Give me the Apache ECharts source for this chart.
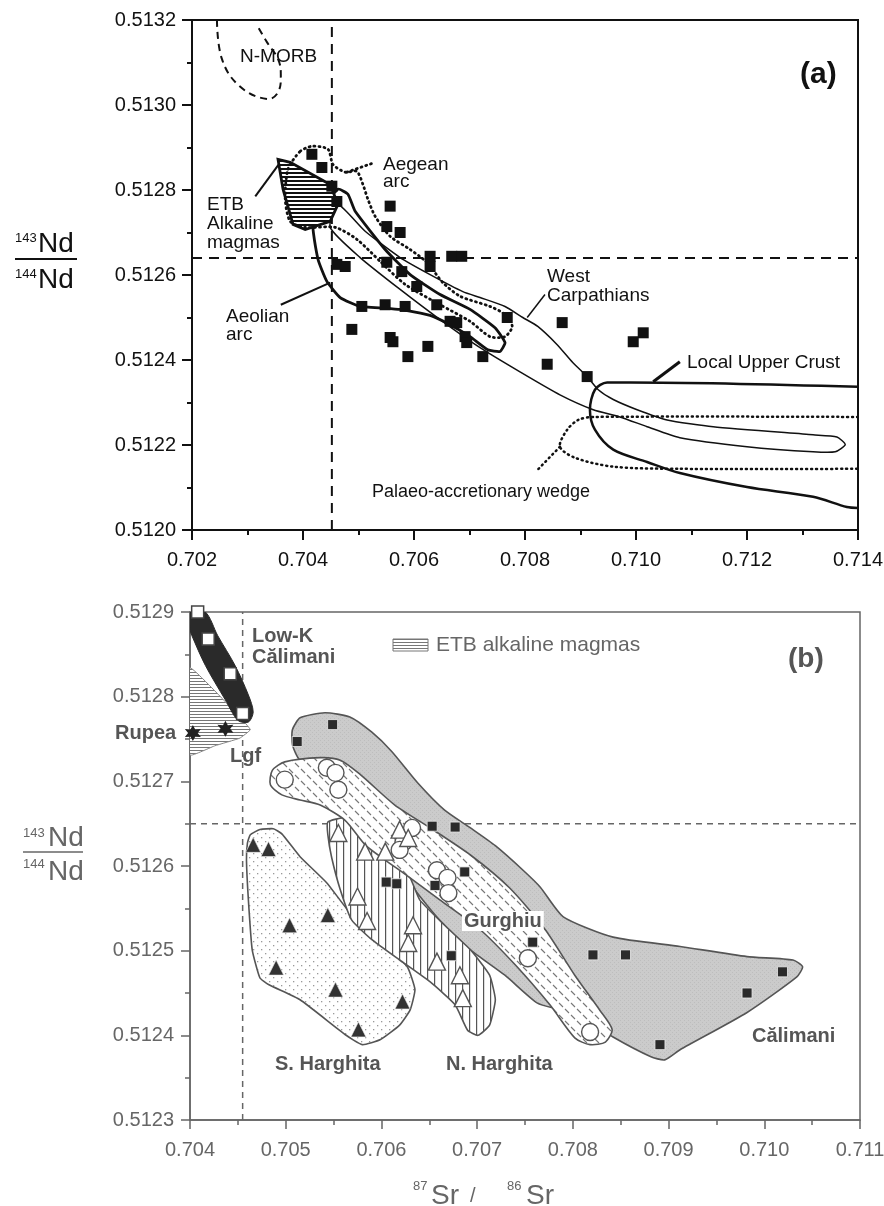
<!DOCTYPE html>
<html><head><meta charset="utf-8">
<script src="https://cdn.jsdelivr.net/npm/echarts@6/dist/echarts.min.js"></script>
<style>html,body{margin:0;padding:0;background:#fff}#c{width:884px;height:1206px}</style>
</head><body><div id="c"></div>
<script>
// ================= DATA =================
// Panel (a) axes
const xTicksA = [0.702, 0.704, 0.706, 0.708, 0.710, 0.712, 0.714];
const yTicksA = [0.5120, 0.5122, 0.5124, 0.5126, 0.5128, 0.5130, 0.5132];
// Panel (b) axes
const xTicksB = [0.704, 0.705, 0.706, 0.707, 0.708, 0.709, 0.710, 0.711];
const yTicksB = [0.5123, 0.5124, 0.5125, 0.5126, 0.5127, 0.5128, 0.5129];
// reference (bulk earth) lines
const refA = [0.70452, 0.51264];
const refB = [0.70455, 0.51265];

// Panel (a) samples (87Sr/86Sr, 143Nd/144Nd)
const samplesA = [
 [0.70416,0.512884],[0.70434,0.512853],[0.70452,0.512809],[0.70461,0.512773],[0.70557,0.512762],
 [0.70551,0.512714],[0.70575,0.5127],[0.70476,0.51262],[0.70461,0.512625],[0.70629,0.512644],
 [0.70629,0.51262],[0.70668,0.512644],[0.70686,0.512644],[0.70551,0.51263],[0.70578,0.512608],
 [0.70605,0.512573],[0.70506,0.512526],[0.70548,0.51253],[0.70584,0.512526],[0.70641,0.51253],
 [0.70488,0.512472],[0.70557,0.512453],[0.70562,0.512443],[0.70589,0.512408],[0.70625,0.512432],
 [0.70665,0.512491],[0.70677,0.512488],[0.70692,0.512455],[0.70695,0.512441],[0.70724,0.512408],
 [0.70768,0.5125],[0.70867,0.512488],[0.71013,0.512464],[0.70995,0.512443],[0.7084,0.51239],
 [0.70912,0.512361]
];
// Panel (a) fields
const nMorb = [[0.70245,0.5132],[0.70254,0.513108],[0.70286,0.513044],[0.70335,0.513014],[0.70355,0.51303],[0.7036,0.513073],[0.70355,0.513108],[0.70335,0.513148],[0.70318,0.513186]];
const etbA = [[0.70355,0.512872],[0.70377,0.512865],[0.70449,0.512813],[0.70463,0.512766],[0.70449,0.512726],[0.70404,0.512707],[0.70382,0.512719],[0.70364,0.512802]];
const aegean = [[0.70395,0.512891],[0.70416,0.512903],[0.70445,0.512896],[0.70454,0.51286],[0.70476,0.512842],[0.70497,0.512844],[0.70508,0.512813],[0.70517,0.512778],[0.7053,0.512738],[0.70557,0.512691],[0.70593,0.51266],[0.70623,0.51263],[0.70652,0.512582],[0.70683,0.51255],[0.70737,0.512526],[0.70764,0.512507],[0.70777,0.512479],[0.70764,0.512455],[0.70737,0.512455],[0.70701,0.512491],[0.70647,0.51253],[0.70584,0.512578],[0.70539,0.512632],[0.70497,0.512684],[0.70458,0.512712],[0.70404,0.512712],[0.70377,0.512726],[0.70368,0.512778],[0.70373,0.512849]];
const aeolian = [[0.70418,0.512726],[0.70427,0.512637],[0.70443,0.512585],[0.70467,0.512547],[0.70503,0.512526],[0.70575,0.512519],[0.70629,0.512505],[0.70665,0.512483],[0.70701,0.512455],[0.70733,0.512424],[0.70755,0.51242],[0.70764,0.512441],[0.70746,0.512476],[0.70701,0.512519],[0.70647,0.512554],[0.70593,0.512601],[0.70548,0.51266],[0.70494,0.51275],[0.70481,0.51279],[0.70463,0.512802]];
const westCarp = [[0.70463,0.512766],[0.70512,0.512703],[0.70575,0.512641],[0.70629,0.512601],[0.70688,0.512561],[0.70719,0.512547],[0.70764,0.512526],[0.70796,0.5125],[0.70823,0.512479],[0.70858,0.512436],[0.70886,0.512394],[0.70912,0.512361],[0.70932,0.51233],[0.70959,0.512307],[0.71002,0.512283],[0.71056,0.512259],[0.71139,0.512243],[0.71319,0.512224],[0.71362,0.512219],[0.71377,0.512201],[0.71359,0.512184],[0.71319,0.512184],[0.712,0.512196],[0.71079,0.512217],[0.7102,0.512243],[0.70971,0.512266],[0.70923,0.512283],[0.70863,0.512318],[0.70791,0.512372],[0.70719,0.512429],[0.70647,0.512495],[0.70575,0.512566],[0.70503,0.512641],[0.70449,0.512712]];
const upperCrust = [[0.714,0.512337],[0.70948,0.512347],[0.70926,0.51233],[0.70917,0.512283],[0.70926,0.512236],[0.70959,0.512189],[0.7102,0.51216],[0.71079,0.512134],[0.712,0.512101],[0.71319,0.512078],[0.7138,0.512054],[0.714,0.512052]];
const palaeoWedge = [[0.714,0.512266],[0.70923,0.512266],[0.70896,0.512259],[0.70876,0.512236],[0.70863,0.512196],[0.7089,0.51217],[0.70959,0.512149],[0.71079,0.512144],[0.714,0.512144]];
// label leader lines (a)
const leadEtb = [[0.70314,0.512785],[0.70359,0.512865]];
const leadAegean = [[0.70479,0.512842],[0.7053,0.512865]];
const leadAeolian = [[0.7036,0.51253],[0.70449,0.512582]];
const leadWest = [[0.70804,0.5125],[0.70836,0.512554]];
const leadCrust = [[0.71031,0.512349],[0.71079,0.512396]];
const leadWedge = [[0.70863,0.512196],[0.70823,0.512142]];

// Panel (b) samples
const calimani = [[0.70512,0.512747],[0.70549,0.512767],[0.70653,0.512647],[0.70677,0.512646],[0.70687,0.512593],[0.70605,0.512581],[0.70616,0.512579],[0.70656,0.512577],[0.70673,0.512494],[0.70758,0.51251],[0.70821,0.512495],[0.70855,0.512495],[0.71019,0.512475],[0.70982,0.51245],[0.70891,0.512389]];
const gurghiu = [[0.70499,0.512702],[0.70543,0.512716],[0.70552,0.51271],[0.70555,0.51269],[0.70632,0.512645],[0.70623,0.512628],[0.70619,0.512619],[0.70658,0.512595],[0.70669,0.512586],[0.7067,0.512568],[0.70753,0.512491],[0.70818,0.512404]];
const nHarghita = [[0.70555,0.512639],[0.70583,0.512617],[0.70604,0.512617],[0.70619,0.512643],[0.70628,0.512633],[0.70575,0.512564],[0.70585,0.512535],[0.70633,0.51253],[0.70628,0.512509],[0.70658,0.512487],[0.70682,0.512471],[0.70685,0.512444]];
const sHarghita = [[0.70466,0.512625],[0.70482,0.51262],[0.70504,0.51253],[0.70544,0.512542],[0.7049,0.51248],[0.70552,0.512454],[0.70576,0.512407],[0.70622,0.51244]];
const lowK = [[0.70408,0.5129],[0.70419,0.512868],[0.70442,0.512827],[0.70455,0.51278]];
const rupea = [[0.70403,0.512757],[0.70437,0.512762]];
// Panel (b) fields
const lowKField = [[0.704,0.5129],[0.70416,0.5129],[0.70429,0.512872],[0.70447,0.512837],[0.70461,0.512802],[0.70466,0.512782],[0.70461,0.51277],[0.7045,0.512772],[0.70437,0.512796],[0.70416,0.512837],[0.70402,0.512872],[0.704,0.512879]];
const etbB = [[0.704,0.512834],[0.70452,0.512776],[0.70463,0.512761],[0.70452,0.512751],[0.70426,0.512742],[0.704,0.512731]];
const calimaniField = [[0.70507,0.512761],[0.70515,0.512775],[0.70541,0.512781],[0.70567,0.512776],[0.7059,0.512758],[0.70611,0.512735],[0.70638,0.512698],[0.70666,0.512666],[0.70693,0.512645],[0.70719,0.512624],[0.70748,0.512595],[0.70766,0.512575],[0.7079,0.51254],[0.70842,0.512516],[0.70912,0.512505],[0.70982,0.512493],[0.7103,0.512489],[0.7104,0.512481],[0.71034,0.512469],[0.70982,0.512427],[0.70912,0.512383],[0.70896,0.512371],[0.70881,0.512375],[0.70842,0.512398],[0.70818,0.512416],[0.70787,0.51243],[0.70763,0.512438],[0.70729,0.512471],[0.70693,0.512501],[0.70661,0.512536],[0.70635,0.512572],[0.70625,0.512595],[0.70614,0.512631],[0.70599,0.512666],[0.70546,0.512713],[0.70515,0.512725],[0.70507,0.512743]];
const gurghiuField = [[0.70486,0.512713],[0.70499,0.512723],[0.70536,0.512728],[0.70557,0.512725],[0.70578,0.512708],[0.70614,0.512672],[0.70651,0.512645],[0.70693,0.512613],[0.70734,0.512574],[0.70771,0.512525],[0.70802,0.512471],[0.70828,0.51243],[0.70841,0.512407],[0.70834,0.512392],[0.70818,0.512389],[0.70802,0.512397],[0.70776,0.512436],[0.7074,0.512483],[0.70703,0.512525],[0.70661,0.51256],[0.70625,0.51259],[0.70604,0.512607],[0.70583,0.512625],[0.70562,0.512654],[0.70536,0.512672],[0.70515,0.512678],[0.70496,0.512684],[0.70484,0.512696]];
const nHarghitaField = [[0.70544,0.512652],[0.70562,0.512657],[0.70583,0.512643],[0.70604,0.512625],[0.7063,0.512586],[0.7064,0.51256],[0.70666,0.51253],[0.70693,0.512501],[0.70713,0.512471],[0.70719,0.512442],[0.70713,0.512412],[0.70701,0.5124],[0.7069,0.512406],[0.70677,0.512436],[0.70651,0.512463],[0.70619,0.512489],[0.7059,0.512513],[0.70569,0.512536],[0.70557,0.512572],[0.70548,0.51261],[0.70544,0.512637]];
const sHarghitaField = [[0.7046,0.512627],[0.70463,0.512637],[0.70473,0.512643],[0.70487,0.512644],[0.70496,0.512638],[0.70515,0.512611],[0.70543,0.51258],[0.70567,0.512545],[0.70599,0.512513],[0.70627,0.512481],[0.70635,0.512454],[0.7063,0.51243],[0.70619,0.512412],[0.70599,0.512395],[0.7058,0.512389],[0.70562,0.512401],[0.70515,0.512442],[0.70482,0.51246],[0.70473,0.512468],[0.70465,0.512501],[0.70461,0.51256],[0.70459,0.512607]];

// ================= RENDER =================
function pat(w, h, bg, draw) {
  const c = document.createElement('canvas'); c.width = w; c.height = h;
  const g = c.getContext('2d');
  if (bg) { g.fillStyle = bg; g.fillRect(0, 0, w, h); }
  draw(g);
  return { image: c, repeat: 'repeat' };
}
const hatchA = pat(6, 4, '#fff', g => { g.fillStyle = '#111'; g.fillRect(0, 0, 6, 2); });
const hatchB = pat(6, 3, '#fff', g => { g.fillStyle = '#777'; g.fillRect(0, 0, 6, 1); });
const vHatch = pat(7, 4, '#fff', g => { g.fillStyle = '#555'; g.fillRect(0, 0, 1.2, 4); });
const dots = pat(8, 8, '#fff', g => { g.fillStyle = '#999'; g.fillRect(1, 1, 1.3, 1.3); g.fillRect(5, 5, 1.3, 1.3); });
const dashes = pat(12, 12, '#fff', g => { g.strokeStyle = '#777'; g.lineWidth = 1.1;
  g.beginPath(); g.moveTo(1, 1); g.lineTo(5, 5); g.moveTo(7, 7); g.lineTo(11, 11); g.stroke(); });
const stipple = pat(4, 4, '#cbcbcb', g => { g.fillStyle = '#bdbdbd'; g.fillRect(0, 0, 1, 1); g.fillRect(2, 2, 1, 1); });

function shape(idx, pts, style, opt) {
  opt = opt || {};
  return {
    type: 'custom', xAxisIndex: idx, yAxisIndex: idx, clip: true, silent: true, z: opt.z || 2,
    data: [pts[0]],
    renderItem: function (params, api) {
      const points = pts.map(p => api.coord(p));
      return { type: opt.open ? 'polyline' : 'polygon', shape: { points: points, smooth: opt.smooth || 0 }, style: style };
    }
  };
}
function refLines(idx, ref, xr, yr, color, w, dash) {
  return [
    { type: 'line', xAxisIndex: idx, yAxisIndex: idx, data: [[ref[0], yr[0]], [ref[0], yr[yr.length - 1]]], symbol: 'none', silent: true, z: 1,
      lineStyle: { color: color, width: w, type: dash } },
    { type: 'line', xAxisIndex: idx, yAxisIndex: idx, data: [[xr[0], ref[1]], [xr[xr.length - 1], ref[1]]], symbol: 'none', silent: true, z: 1,
      lineStyle: { color: color, width: w, type: dash } }
  ];
}
function scat(idx, data, symbol, size, color, border, bw, z) {
  return { type: 'scatter', xAxisIndex: idx, yAxisIndex: idx, data: data, symbol: symbol, symbolSize: size, silent: true, z: z || 5,
    itemStyle: { color: color, borderColor: border || color, borderWidth: bw || 0, opacity: 1 } };
}
const star6 = 'path://M0,-10L2.6,-4.5L8.7,-5L5.2,0L8.7,5L2.6,4.5L0,10L-2.6,4.5L-8.7,5L-5.2,0L-8.7,-5L-2.6,-4.5Z';

function axisSet(ticks, fmt, color, lw, fs, margin, tickLen, pos) {
  return {
    type: 'value', min: ticks[0], max: ticks[ticks.length - 1], interval: +(ticks[1] - ticks[0]).toFixed(6),
    position: pos, splitLine: { show: false },
    axisLine: { show: true, onZero: false, lineStyle: { color: color, width: lw } },
    axisTick: { show: true, inside: false, length: tickLen, lineStyle: { color: color, width: lw } },
    minorTick: { show: true, splitNumber: 2, length: 5, lineStyle: { color: color, width: lw } },
    minorSplitLine: { show: false },
    axisLabel: { show: true, margin: margin, color: color, fontSize: fs, fontFamily: 'Liberation Sans, Arial, sans-serif',
      showMinLabel: true, showMaxLabel: true, hideOverlap: false, formatter: v => v.toFixed(fmt) }
  };
}

const FONT = 'Liberation Sans, Arial, sans-serif';
function T(x, y, text, size, color, opts) {
  opts = opts || {};
  return { type: 'text', x: x, y: y, silent: true, z: 100,
    style: { text: text, fill: color, font: (opts.bold ? 'bold ' : '') + size + 'px ' + FONT,
      textAlign: opts.align || 'left', textVerticalAlign: opts.va || 'middle',
      backgroundColor: opts.bg, padding: opts.bg ? [0, 2] : 0 } };
}

const cA = '#111', cB = '#555', cBt = '#666';
const graphics = [
  // panel (a) y-axis title
  T(15, 238, '143', 13, cA), T(38, 244, 'Nd', 28, cA),
  { type: 'line', silent: true, shape: { x1: 15, y1: 259, x2: 77, y2: 259 }, style: { stroke: cA, lineWidth: 2 } },
  T(15, 274, '144', 13, cA), T(38, 280, 'Nd', 28, cA),
  // panel (a) annotations
  T(240, 57, 'N-MORB', 19, cA),
  T(383, 165, 'Aegean', 19, cA), T(383, 182, 'arc', 19, cA),
  T(207, 205, 'ETB', 19, cA), T(207, 224, 'Alkaline', 19, cA), T(207, 243, 'magmas', 19, cA),
  T(226, 317, 'Aeolian', 19, cA), T(226, 335, 'arc', 19, cA),
  T(547, 277, 'West', 19, cA), T(547, 296, 'Carpathians', 19, cA),
  T(687, 363, 'Local Upper Crust', 19, cA),
  T(372, 492, 'Palaeo-accretionary wedge', 18, cA),
  T(800, 75, '(a)', 30, cA, { bold: true }),
  // panel (b) y-axis title
  T(23, 833, '143', 13, cBt), T(48, 838, 'Nd', 28, cBt),
  { type: 'line', silent: true, shape: { x1: 23, y1: 852, x2: 83, y2: 852 }, style: { stroke: cBt, lineWidth: 1.5 } },
  T(23, 864, '144', 13, cBt), T(48, 872, 'Nd', 28, cBt),
  // panel (b) x-axis title
  T(413, 1186, '87', 13, cBt), T(431, 1196, 'Sr', 28, cBt), T(470, 1196, '/', 20, cBt),
  T(507, 1186, '86', 13, cBt), T(526, 1196, 'Sr', 28, cBt),
  // panel (b) annotations
  T(252, 636, 'Low-K', 20, cB, { bold: true }), T(252, 657, 'Călimani', 20, cB, { bold: true }),
  T(115, 733, 'Rupea', 20, cB, { bold: true }),
  T(230, 756, 'Lgf', 20, cB, { bold: true }),
  T(462, 921, 'Gurghiu', 20, cB, { bold: true, bg: '#fff' }),
  T(752, 1036, 'Călimani', 20, cB, { bold: true }),
  T(275, 1064, 'S. Harghita', 20, cB, { bold: true }),
  T(446, 1064, 'N. Harghita', 20, cB, { bold: true }),
  T(788, 659, '(b)', 28, cB, { bold: true }),
  // legend (b)
  { type: 'rect', silent: true, shape: { x: 393, y: 639, width: 35, height: 12 }, style: { fill: hatchB, stroke: '#777', lineWidth: 1 } },
  T(436, 645, 'ETB alkaline magmas', 21, cBt)
];

const series = [].concat(
  // ---- panel (a)
  refLines(0, refA, xTicksA, yTicksA, cA, 2, [10, 7]),
  [
    shape(0, nMorb, { fill: 'none', stroke: cA, lineWidth: 2, lineDash: [7, 5] }, { open: true, smooth: 0.4, z: 2 }),
    shape(0, westCarp, { fill: 'none', stroke: cA, lineWidth: 1.5 }, { smooth: 0.2, z: 2 }),
    shape(0, palaeoWedge, { fill: 'none', stroke: cA, lineWidth: 2.5, lineDash: [1, 4], lineCap: 'round' }, { open: true, smooth: 0.3, z: 2 }),
    shape(0, upperCrust, { fill: 'none', stroke: cA, lineWidth: 2.5 }, { open: true, smooth: 0.3, z: 3 }),
    shape(0, aeolian, { fill: 'none', stroke: cA, lineWidth: 2.8 }, { smooth: 0.15, z: 3 }),
    shape(0, etbA, { fill: hatchA, stroke: cA, lineWidth: 2.8 }, { z: 3 }),
    shape(0, aegean, { fill: 'none', stroke: cA, lineWidth: 2.8, lineDash: [1, 4], lineCap: 'round' }, { smooth: 0.25, z: 4 }),
    shape(0, leadEtb, { fill: 'none', stroke: cA, lineWidth: 2 }, { open: true }),
    shape(0, leadAegean, { fill: 'none', stroke: cA, lineWidth: 2.8, lineDash: [1, 4], lineCap: 'round' }, { open: true }),
    shape(0, leadAeolian, { fill: 'none', stroke: cA, lineWidth: 2 }, { open: true }),
    shape(0, leadWest, { fill: 'none', stroke: cA, lineWidth: 1.5 }, { open: true }),
    shape(0, leadCrust, { fill: 'none', stroke: cA, lineWidth: 3 }, { open: true }),
    shape(0, leadWedge, { fill: 'none', stroke: cA, lineWidth: 2.5, lineDash: [1, 4], lineCap: 'round' }, { open: true }),
    scat(0, samplesA, 'rect', 11, cA)
  ],
  // ---- panel (b)
  [
    shape(1, calimaniField, { fill: stipple, stroke: cB, lineWidth: 1.6 }, { smooth: 0.2, z: 2 }),
    shape(1, sHarghitaField, { fill: dots, stroke: cB, lineWidth: 1.6 }, { smooth: 0.15, z: 2 }),
    shape(1, nHarghitaField, { fill: vHatch, stroke: cB, lineWidth: 1.6 }, { smooth: 0.15, z: 3 }),
    shape(1, gurghiuField, { fill: dashes, stroke: cB, lineWidth: 1.6 }, { smooth: 0.25, z: 3 }),
    shape(1, etbB, { fill: hatchB, stroke: '#888', lineWidth: 1 }, { smooth: 0.1, z: 2 }),
    shape(1, lowKField, { fill: '#2a2a2a', stroke: '#2a2a2a', lineWidth: 1 }, { smooth: 0.3, z: 2 })
  ],
  refLines(1, refB, xTicksB, yTicksB, '#666', 1.5, [6, 5]),
  [
    scat(1, calimani, 'rect', 10, '#2b2b2b', '#eee', 0.8),
    scat(1, gurghiu, 'circle', 17, '#fff', cB, 1.4),
    scat(1, nHarghita, 'triangle', 17, '#fff', cB, 1.4),
    scat(1, sHarghita, 'triangle', 15, '#333', '#eee', 0.6),
    scat(1, lowK, 'rect', 12, '#fff', '#444', 1.5, 6),
    scat(1, rupea, star6, 16, '#222')
  ]
);

const chart = echarts.init(document.getElementById('c'), null, { renderer: 'canvas' });
chart.setOption({
  animation: false,
  backgroundColor: '#fff',
  grid: [
    { left: 192, top: 20, right: 26, bottom: 676, show: true, borderColor: cA, borderWidth: 2, backgroundColor: 'transparent', outerBoundsMode: 'none' },
    { left: 190, top: 612, right: 24, bottom: 86, show: true, borderColor: '#666', borderWidth: 1.5, backgroundColor: 'transparent', outerBoundsMode: 'none' }
  ],
  xAxis: [
    Object.assign(axisSet(xTicksA, 3, cA, 2, 20, 20, 10, 'bottom'), { gridIndex: 0 }),
    Object.assign(axisSet(xTicksB, 3, cBt, 1.5, 20, 20, 9, 'bottom'), { gridIndex: 1 })
  ],
  yAxis: [
    Object.assign(axisSet(yTicksA, 4, cA, 2, 20, 16, 10, 'left'), { gridIndex: 0 }),
    Object.assign(axisSet(yTicksB, 4, cBt, 1.5, 20, 16, 9, 'left'), { gridIndex: 1 })
  ],
  graphic: graphics,
  series: series
});
</script></body></html>
